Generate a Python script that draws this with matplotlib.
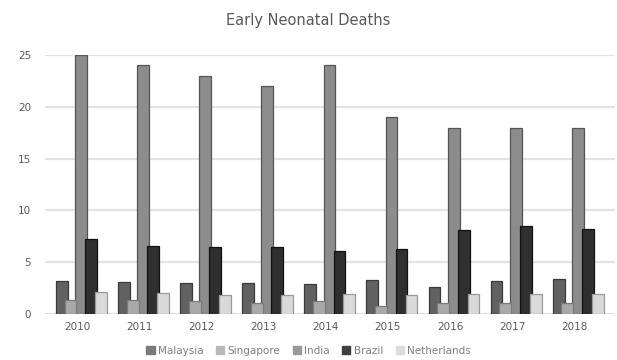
import matplotlib
matplotlib.use("Agg")
import matplotlib.pyplot as plt
import numpy as np

years = ["2010", "2011", "2012", "2013", "2014", "2015", "2016", "2017", "2018"]
malaysia = [3.2, 3.1, 3.0, 3.0, 2.9, 3.3, 2.6, 3.2, 3.4]
singapore = [1.3, 1.3, 1.2, 1.1, 1.2, 0.8, 1.1, 1.1, 1.1]
india = [25, 24, 23, 22, 24, 19, 18, 18, 18]
brazil = [7.2, 6.6, 6.5, 6.5, 6.1, 6.3, 8.1, 8.5, 8.2]
netherlands = [2.1, 2.0, 1.8, 1.8, 1.9, 1.8, 1.9, 1.9, 1.9]

series = [
    ("Malaysia", malaysia, "#616161", "#3a3a3a", -0.25, 3),
    ("Singapore", singapore, "#a9a9a9", "#7a7a7a", -0.11, 4),
    ("India", india, "#8c8c8c", "#555555", 0.06, 3),
    ("Brazil", brazil, "#2f2f2f", "#111111", 0.22, 4),
    ("Netherlands", netherlands, "#d9d9d9", "#9a9a9a", 0.38, 5),
]
legend_colors = ["#7a7a7a", "#b8b8b8", "#9a9a9a", "#3f3f3f", "#dcdcdc"]

fig = plt.figure(figsize=(6.17, 3.6), dpi=100)
ax = fig.add_axes([0.073, 0.128, 0.924, 0.719])
x = np.arange(len(years))
w = 0.19
handles = []
for (name, vals, c, ec, off, z), lc in zip(series, legend_colors):
    ax.bar(x + off, vals, width=w, color=c, edgecolor=ec, linewidth=0.9, zorder=z)
    handles.append(plt.Rectangle((0, 0), 1, 1, color=lc))

ax.set_ylim(0, 25)
ax.set_xlim(-0.52, 8.66)
ax.set_yticks([0, 5, 10, 15, 20, 25])
ax.set_xticks(x)
ax.set_xticklabels(years)
ax.yaxis.grid(True, color="#e3e3e3", linewidth=1.6, zorder=0)
ax.set_axisbelow(True)
for s in ax.spines.values():
    s.set_visible(False)
ax.tick_params(length=0, colors="#595959", labelsize=7.5)
ax.tick_params(axis="y", pad=10)
ax.tick_params(axis="x", pad=6)
ax.axhline(0, color="#c4c4c4", linewidth=1.0, linestyle=(0, (3, 2)), zorder=1)

fig.text(0.5, 0.943, "Early Neonatal Deaths", ha="center", va="center",
         fontsize=10.5, color="#595959")
fig.legend(handles, [s[0] for s in series], loc="center", bbox_to_anchor=(0.5, 0.025),
           ncol=5, frameon=False, fontsize=7.5, labelcolor="#7f7f7f",
           handlelength=0.8, handleheight=0.8, handletextpad=0.3, columnspacing=1.2)

fig.savefig("out.png", dpi=100)
